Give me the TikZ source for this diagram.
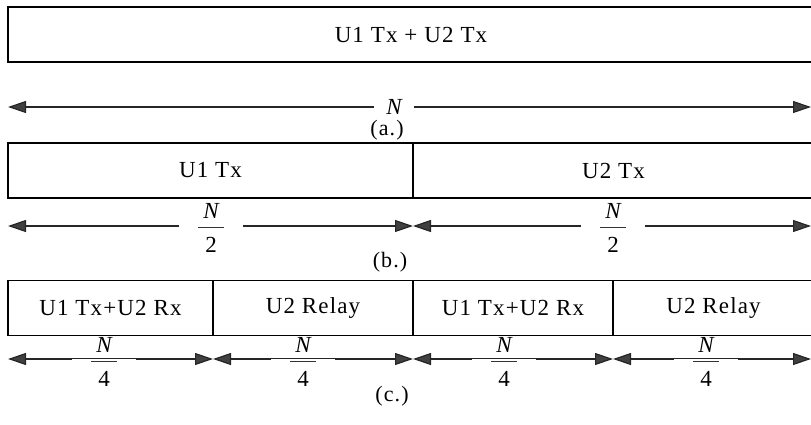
\documentclass[tikz,border=0pt]{standalone}
\usepackage{fontspec}
\setmainfont{Liberation Serif}[LetterSpace=5]
\usetikzlibrary{arrows.meta}
\begin{document}
\begin{tikzpicture}[x=1pt,y=-1pt,
  cell/.style={draw=black, line width=1.4pt, minimum height=55pt, inner sep=0pt,
    font=\fontsize{23}{26}\selectfont},
  dimline/.style={line width=1.2pt, draw=black!85,
    {Triangle[length=18pt,width=12pt,fill=black!75]}-{Triangle[length=18pt,width=12pt,fill=black!75]}},
  numer/.style={font=\fontsize{23}{26}\selectfont\itshape, inner sep=0pt},
  denom/.style={font=\fontsize{23}{26}\selectfont, inner sep=0pt},
  fracgap/.style={fill=white, minimum width=64pt, minimum height=4pt, inner sep=0pt,
    path picture={\fill[black!80] ([xshift=-13pt,yshift=-0.4pt]path picture bounding box.center)
      rectangle ([xshift=13pt,yshift=0.4pt]path picture bounding box.center);},
    label={[numer,label distance=6pt]above:N},
    label={[denom,label distance=8pt]below:#1}},
  nlabel/.style={fill=white, inner xsep=12pt, inner ysep=2pt,
    font=\fontsize{23}{26}\selectfont\itshape},
  captext/.style={font=\fontsize{22}{25}\selectfont, inner sep=0pt}]
\useasboundingbox (0,0) rectangle (811,425);
% (a)
\node[cell, minimum width=806pt] (ua) at (411,34.5) {U1 Tx + U2 Tx};
\coordinate (a0) at (8,107);
\coordinate (a1) at (811,107);
\draw[dimline] (a0) -- (a1);
\node[nlabel] (na) at (394,107) {N};
\node[captext] (capa) at (387,130) {(a.)};
% (b)
\node[cell, minimum width=405pt] (b1) at (210.5,170.5) {U1 Tx};
\node[cell, minimum width=401pt] (b2) at (613.5,170.5) {U2 Tx};
\coordinate (b0c) at (8,226);
\coordinate (b1c) at (413,226);
\coordinate (b2c) at (811,226);
\draw[dimline] (b0c) -- (b1c);
\draw[dimline] (b1c) -- (b2c);
\node[fracgap=2] (fb1) at (211,227) {};
\node[fracgap=2] (fb2) at (613,227) {};
\node[captext] (capb) at (390,262) {(b.)};
% (c)
\node[cell, minimum width=205pt] (c1) at (110.5,308) {U1 Tx+U2 Rx};
\node[cell, minimum width=200pt] (c2) at (313,308) {U2 Relay};
\node[cell, minimum width=200pt] (c3) at (513,308) {U1 Tx+U2 Rx};
\node[cell, minimum width=201pt] (c4) at (713.5,308) {U2 Relay};
\coordinate (d0) at (8,359);
\coordinate (d1) at (213,359);
\coordinate (d2) at (413,359);
\coordinate (d3) at (613,359);
\coordinate (d4) at (811,359);
\draw[dimline] (d0) -- (d1);
\draw[dimline] (d1) -- (d2);
\draw[dimline] (d2) -- (d3);
\draw[dimline] (d3) -- (d4);
\node[fracgap=4] (fc1) at (104,361) {};
\node[fracgap=4] (fc2) at (303,361) {};
\node[fracgap=4] (fc3) at (504,361) {};
\node[fracgap=4] (fc4) at (706,361) {};
\node[captext] (capc) at (392,396) {(c.)};
\end{tikzpicture}
\end{document}
